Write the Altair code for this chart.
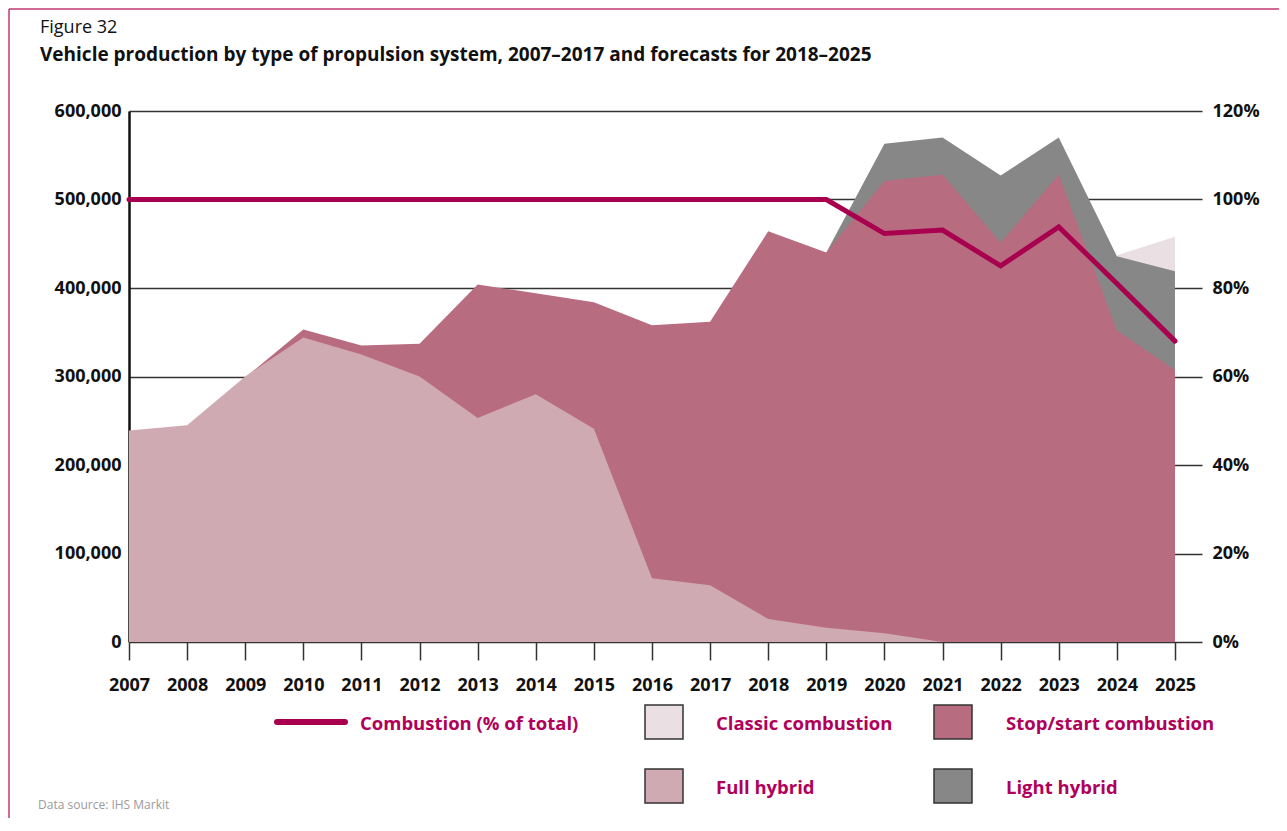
import altair as alt
import pandas as pd

years = list(range(2007, 2026))
full_hybrid = [239000, 245000, 300000, 344000, 325000, 300000, 253000, 280000, 241000,
               72000, 64000, 26000, 16000, 10000, 0, None, None, None, None]
stop_start = [None, None, 299000, 353000, 335000, 337000, 404000, 394000, 384000,
              358000, 362000, 464000, 440000, 521000, 528000, 451000, 528000, 352000, 307000]
light_hybrid = [None] * 12 + [440000, 563000, 570000, 527000, 570000, 436000, 419000]
classic = [None] * 17 + [437000, 458000]
combustion_pct = [100] * 13 + [92.3, 93.1, 85.0, 93.8, 81.0, 68.0]

FONT = "Open Sans"
MAGENTA = "#A8004F"
TXT = "#B0005A"

W, H = 1073, 531
PL, PT = 121, 103


def series(vals):
    df = pd.DataFrame({"year": years, "value": vals})
    return df.dropna()


xenc = alt.X(
    "year:Q",
    scale=alt.Scale(domain=[2007, 2025.465], nice=False, zero=False),
    axis=alt.Axis(
        values=years, format="d", title=None, domain=False, grid=False,
        tickSize=18, tickColor="#333333", tickWidth=1.5,
        labelFont=FONT, labelFontSize=18, labelFontWeight="bold", labelColor="#111111",
        labelPadding=16, labelFlush=False,
    ),
)

yleft = alt.Scale(domain=[0, 600000], nice=False)
yaxis = alt.Axis(
    values=[0, 100000, 200000, 300000, 400000, 500000, 600000], format=",.0f", title=None,
    grid=True, gridColor="#333333", gridWidth=1.5, ticks=False,
    domain=True, domainColor="#111111", domainWidth=2.5,
    labelFont=FONT, labelFontSize=18, labelFontWeight="bold", labelColor="#111111",
    labelPadding=8,
)


def area(vals, color):
    return alt.Chart(series(vals)).mark_area(color=color, opacity=1, interpolate="linear").encode(
        x=xenc, y=alt.Y("value:Q", scale=yleft, axis=yaxis)
    )


areas = alt.layer(
    area(classic, "#EADFE3"),
    area(light_hybrid, "#878787"),
    area(stop_start, "#B86C80"),
    area(full_hybrid, "#D0AAB3"),
)

line = alt.Chart(series(combustion_pct)).mark_line(
    color=MAGENTA, strokeWidth=5, strokeCap="round"
).encode(
    x=xenc,
    y=alt.Y(
        "value:Q",
        scale=alt.Scale(domain=[0, 120], nice=False),
        axis=alt.Axis(
            orient="right", values=[0, 20, 40, 60, 80, 100, 120], title=None, grid=False,
            ticks=False, domain=False, labelExpr="datum.value + '%'",
            labelFont=FONT, labelFontSize=18, labelFontWeight="bold", labelColor="#111111",
            labelPadding=10,
        ),
    ),
)

one = pd.DataFrame({"a": [0]})


def text(t, x, y, size=16, weight="normal", color="#111111", align="left"):
    return alt.Chart(one).mark_text(
        text=t, font=FONT, fontSize=size, fontWeight=weight, color=color,
        align=align, baseline="middle",
    ).encode(x=alt.value(x), y=alt.value(y))


def swatch(x, y, color):
    return alt.Chart(one).mark_rect(color=color, stroke="#333333", strokeWidth=1.5).encode(
        x=alt.value(x), x2=alt.value(x + 38), y=alt.value(y - 17), y2=alt.value(y + 17)
    )


r1, r2 = 611, 675
legend = alt.layer(
    alt.Chart(one).mark_rule(color=MAGENTA, strokeWidth=6, strokeCap="round").encode(
        x=alt.value(148), x2=alt.value(216), y=alt.value(r1)
    ),
    text("Combustion (% of total)", 231, r1 + 2, 18.5, "bold", TXT),
    swatch(516, r1, "#EADFE3"),
    text("Classic combustion", 587, r1 + 2, 18.5, "bold", TXT),
    swatch(805, r1, "#B86C80"),
    text("Stop/start combustion", 877, r1 + 2, 18.5, "bold", TXT),
    swatch(516, r2, "#D0AAB3"),
    text("Full hybrid", 587, r2 + 2, 18.5, "bold", TXT),
    swatch(805, r2, "#878787"),
    text("Light hybrid", 877, r2 + 2, 18.5, "bold", TXT),
)

frame = alt.layer(
    alt.Chart(one).mark_rule(color="#C23A72", strokeWidth=1.5).encode(
        x=alt.value(-PL + 1), x2=alt.value(W + 80), y=alt.value(-PT + 1)
    ),
    alt.Chart(one).mark_rule(color="#C23A72", strokeWidth=1.5).encode(
        x=alt.value(-PL + 1), y=alt.value(-PT + 1), y2=alt.value(H + 200)
    ),
)

titles = alt.layer(
    text("Figure 32", -89, -83, 18, "normal"),
    text("Vehicle production by type of propulsion system, 2007\u20132017 and forecasts for 2018\u20132025",
         -89, -56, 19, "bold"),
    text("Data source: IHS Markit", -91, 694, 12, "normal", "#9A9A9A"),
)

chart = alt.layer(areas, line, legend, titles, frame).resolve_scale(y="independent").properties(
    width=W, height=H,
    padding={"left": PL, "top": PT, "right": 77, "bottom": 176},
    autosize=alt.AutoSizeParams(type="none"),
).configure_view(stroke=None)

chart.save("out.html", embed_options={"renderer": "svg", "actions": False})
